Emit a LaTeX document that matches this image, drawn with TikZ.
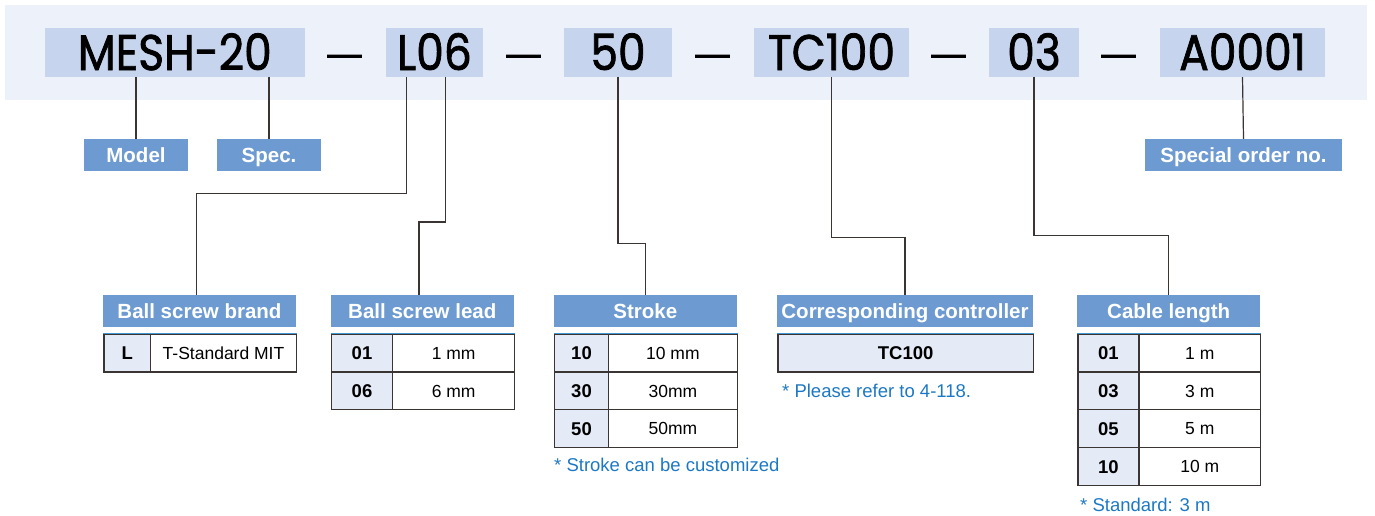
\documentclass[tikz,border=0pt]{standalone}
\usepackage{fontspec}
\setmainfont{Liberation Sans}
\newfontfamily\codefont[FakeBold=1.6]{Poppins}
\definecolor{band}{RGB}{237,241,250}
\definecolor{codebox}{RGB}{198,213,237}
\definecolor{hdrblue}{RGB}{109,155,209}
\definecolor{keycell}{RGB}{228,234,246}
\definecolor{notecol}{RGB}{28,120,196}
\definecolor{linecol}{RGB}{58,53,51}
\definecolor{topline}{RGB}{66,150,210}
\tikzset{
  codebox/.style={fill=codebox, inner sep=0pt, minimum height=49pt, font=\codefont\fontsize{50}{50}\selectfont, text=black, text height=35pt, text depth=0pt},
  dashmark/.style={inner sep=0pt, anchor=base, font=\fontsize{50}{50}\selectfont, text=black},
  labbox/.style={fill=hdrblue, inner sep=0pt, minimum height=32pt, text=white, font=\bfseries\fontsize{20.5}{20.5}\selectfont, text height=14.7pt, text depth=0pt},
  cell/.style={draw=linecol, line width=1.3pt, inner sep=0pt, minimum height=37.8pt, anchor=north west, font=\fontsize{17.5}{17.5}\selectfont, text height=12.6pt, text depth=0pt},
  keyc/.style={cell, fill=keycell, font=\bfseries\fontsize{18.5}{18.5}\selectfont, text height=13.3pt},
  valc/.style={cell, fill=white},
  note/.style={anchor=west, inner sep=0pt, text=notecol, font=\fontsize{18.5}{18.5}\selectfont},
  conn/.style={draw=linecol, line width=1.2pt},
}
\begin{document}
\begin{tikzpicture}[x=1pt,y=-1pt]
\useasboundingbox (0,0) rectangle (1375,515);
\fill[band] (4.5,5) rectangle (1367,100);
% code boxes
\node[codebox, minimum width=260.4pt] (mesh) at (174.8,52.5) {\scalebox{0.88}[1]{MESH-20}};
\node[codebox, minimum width=97pt] (l06) at (434.5,52.5) {\scalebox{0.88}[1]{L06}};
\node[codebox, minimum width=108pt] (fifty) at (618,52.5) {\scalebox{0.88}[1]{50}};
\node[codebox, minimum width=155pt] (tc) at (831.5,52.5) {\scalebox{0.88}[1]{TC100}};
\node[codebox, minimum width=90pt] (zero3) at (1034,52.5) {\scalebox{0.88}[1]{03}};
\node[codebox, minimum width=165pt] (a0001) at (1242.5,52.5) {\scalebox{0.88}[1]{A0001}};
% dashes
\node[dashmark] (d1) at (344.5,69) {\scalebox{0.7}[1]{—}};
\node[dashmark] (d2) at (523.5,69) {\scalebox{0.7}[1]{—}};
\node[dashmark] (d3) at (713,69) {\scalebox{0.7}[1]{—}};
\node[dashmark] (d4) at (949,69) {\scalebox{0.7}[1]{—}};
\node[dashmark] (d5) at (1118.5,69) {\scalebox{0.7}[1]{—}};
% label boxes
\node[labbox, minimum width=104pt] (model) at (136,155) {Model};
\node[labbox, minimum width=104pt] (spec) at (269,155) {Spec.};
\node[labbox, minimum width=197pt] (special) at (1243.5,155) {Special order no.};
\node[labbox, minimum width=192.4pt] (brand) at (199.5,311) {Ball screw brand};
\node[labbox, minimum width=183.3pt] (lead) at (422.3,311) {Ball screw lead};
\node[labbox, minimum width=182.7pt] (stroke) at (645.3,311) {Stroke};
\node[labbox, minimum width=255.4pt] (ctrl) at (905,311) {Corresponding controller};
\node[labbox, minimum width=182.7pt] (cable) at (1168.7,311) {Cable length};
% connectors
\draw[conn] (mesh.south -| model.north) -- (model.north);
\draw[conn] (mesh.south -| spec.north) -- (spec.north);
\draw[conn] ([xshift=-28pt]l06.south) -- ++(0,116) -| ([xshift=-2.8pt]brand.north);
\draw[conn] ([xshift=11pt]l06.south) -- ++(0,144.7) -| ([xshift=-3.3pt]lead.north);
\draw[conn] (fifty.south) -- ++(0,166.3) -| (stroke.north);
\draw[conn] (tc.south) -- ++(0,160.3) -| (ctrl.north);
\draw[conn] (zero3.south) -- ++(0,158) -| (cable.north);
\draw[conn] (a0001.south) -- (special.north);
% brand table
\node[keyc, minimum width=46.7pt] (bk1) at (103.3,333.5) {L};
\node[valc, minimum width=145.7pt] (bv1) at (150,333.5) {T-Standard MIT};
% lead table
\node[keyc, minimum width=61.3pt] (lk1) at (330.7,333.5) {01};
\node[valc, minimum width=122pt] (lv1) at (392,333.5) {1 mm};
\node[keyc, minimum width=61.3pt] (lk2) at (330.7,371.3) {06};
\node[valc, minimum width=122pt] (lv2) at (392,371.3) {6 mm};
% stroke table
\node[keyc, minimum width=53.7pt] (sk1) at (554,333.5) {10};
\node[valc, minimum width=129pt] (sv1) at (607.7,333.5) {10 mm};
\node[keyc, minimum width=53.7pt] (sk2) at (554,371.3) {30};
\node[valc, minimum width=129pt] (sv2) at (607.7,371.3) {30mm};
\node[keyc, minimum width=53.7pt] (sk3) at (554,409.1) {50};
\node[valc, minimum width=129pt] (sv3) at (607.7,409.1) {50mm};
% controller table
\node[keyc, minimum width=255.4pt] (ck1) at (777.3,333.5) {TC100};
% cable table
\node[keyc, minimum width=61pt] (ca1) at (1077.3,333.5) {01};
\node[valc, minimum width=121.7pt] (cv1) at (1138.3,333.5) {1 m};
\node[keyc, minimum width=61pt] (ca2) at (1077.3,371.3) {03};
\node[valc, minimum width=121.7pt] (cv2) at (1138.3,371.3) {3 m};
\node[keyc, minimum width=61pt] (ca3) at (1077.3,409.1) {05};
\node[valc, minimum width=121.7pt] (cv3) at (1138.3,409.1) {5 m};
\node[keyc, minimum width=61pt] (ca4) at (1077.3,446.9) {10};
\node[valc, minimum width=121.7pt] (cv4) at (1138.3,446.9) {10 m};
% blue top lines of tables
\draw[topline, line width=1.3pt] (bk1.north west) -- (bv1.north east);
\draw[topline, line width=1.3pt] (lk1.north west) -- (lv1.north east);
\draw[topline, line width=1.3pt] (sk1.north west) -- (sv1.north east);
\draw[topline, line width=1.3pt] (ck1.north west) -- (ck1.north east);
\draw[topline, line width=1.3pt] (ca1.north west) -- (cv1.north east);
% notes
\node[note] (n1) at (554,465) {* Stroke can be customized};
\node[note] (n2) at (782,390.5) {* Please refer to 4-118.};
\node[note] (n3) at (1080,505) {* Standard: 3 m};
\end{tikzpicture}
\end{document}
